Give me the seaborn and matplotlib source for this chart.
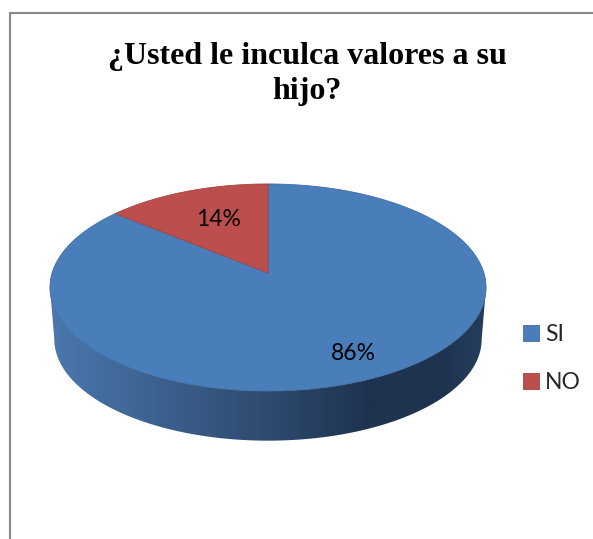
import numpy as np
import matplotlib
matplotlib.use('Agg')
import matplotlib.pyplot as plt
import matplotlib.colors as mcolors
import seaborn as sns

# Datos
categorias = ['SI', 'NO']
valores = [86, 14]
titulo = '¿Usted le inculca valores a su\nhijo?'

sns.set_theme(style='white')
colores = ['#4a7ebb', '#bc4f4d']
bordes = ['#3f6da3', '#a5423f']

fig = plt.figure(figsize=(5.93, 5.39), dpi=100)
ax = fig.add_axes([0, 0, 1, 1])
ax.axis('off')

# Marco gris (solo arriba e izquierda)
ax.plot([593, 9.5, 9.5], [12.5, 12.5, 539], color='#8a8a8a', lw=1.5, solid_joinstyle='miter')


# Proyeccion en perspectiva del disco unitario
def proyectar(theta, radio=1.0, escala=1.0, dy=0.0):
    u = radio * np.sin(theta)
    v = radio * np.cos(theta)
    w = 1 + 0.14 * v
    return 268 + escala * 215.9 * u / w, 273 + dy - escala * 101.5 * v / w


# Lateral del cilindro con degradado
stops_x = [50, 120, 268, 370, 440, 486]
stops_c = ['#4a78ad', '#41699a', '#2e4a6e', '#1e3350', '#1f3350', '#253d5c']
stops_rgb = np.array([mcolors.to_rgb(c) for c in stops_c])
xg = np.linspace(50, 486, 436)
gradiente = np.stack([np.interp(xg, stops_x, stops_rgb[:, i]) for i in range(3)], axis=-1)[None, :, :]
ts_lat = np.linspace(np.pi * 0.544, np.pi * 1.456, 300)
xs, ys = proyectar(ts_lat)
xb, yb = proyectar(ts_lat[::-1], escala=0.98, dy=52)
lateral = ax.fill(np.r_[xs, xb], np.r_[ys, yb], facecolor='none', edgecolor='none')[0]
img = ax.imshow(gradiente, extent=(50, 486, 445, 270), aspect='auto', interpolation='bilinear')
img.set_clip_path(lateral)

# Cara superior, un sector por categoria (horario desde arriba)
fracciones = np.cumsum([0] + valores) / np.sum(valores)
for i, cat in enumerate(categorias):
    ts = np.linspace(fracciones[i], fracciones[i + 1], 300) * 2 * np.pi
    xs, ys = proyectar(ts)
    ax.fill(np.r_[268, xs], np.r_[273, ys], facecolor=colores[i], edgecolor=bordes[i],
            lw=0.6, label=cat, zorder=3)

ax.set_xlim(0, 593)
ax.set_ylim(539, 0)

# Etiquetas de porcentaje
fuente = 'Lato'
pos_etiquetas = [(353, 354), (219, 219)]
for v, (px, py) in zip(valores, pos_etiquetas):
    ax.text(px, py, f'{v}%', ha='center', va='center', fontsize=16.5,
            family=fuente, color='black', zorder=4)

# Titulo
ax.text(307, 74, titulo, ha='center', va='center', fontsize=23, fontweight='bold',
        family='Liberation Serif', color='black', linespacing=1.3)

# Leyenda
ax.legend(loc='center left', bbox_to_anchor=(523 / 593, 1 - 358.5 / 539), frameon=False,
          prop={'family': fuente, 'size': 16.5}, handlelength=0.7, handleheight=0.7,
          handletextpad=0.25, labelspacing=1.2, borderpad=0, borderaxespad=0)

fig.savefig('out.png', dpi=100)
